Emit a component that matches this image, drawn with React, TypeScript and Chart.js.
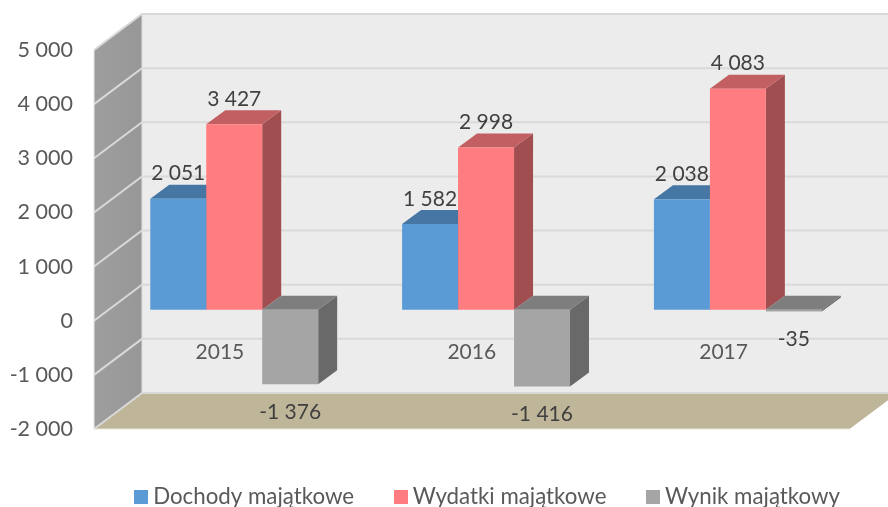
import React, { useEffect, useRef } from "react";
import { Chart, registerables } from "chart.js";

Chart.register(...registerables);

const categories = ["2015", "2016", "2017"];
const dochody = [2051, 1582, 2038];
const wydatki = [3427, 2998, 4083];
const wynik = [-1376, -1416, -35];
const seriesNames = ["Dochody majątkowe", "Wydatki majątkowe", "Wynik majątkowy"];
const frontColors = ["#5B9BD5", "#FF7C80", "#A5A5A5"];
const topColors = ["#4676A3", "#C25F62", "#7E7E7E"];
const sideColors = ["#3B6488", "#A04E50", "#696969"];

const FONT = "Lato, Carlito, 'Open Sans', sans-serif";
const WALL = { dx: 48, dy: -36 };
const PLANE = { dx: 14.3, dy: -11 };
const BAR = { dx: 19, dy: -14 };

const fmt = (v: number) => String(v).replace(/\B(?=(\d{3})+(?!\d))/g, " ");

function poly(ctx: CanvasRenderingContext2D, pts: number[][], fill: any) {
  ctx.beginPath();
  pts.forEach((p, i) => (i ? ctx.lineTo(p[0], p[1]) : ctx.moveTo(p[0], p[1])));
  ctx.closePath();
  ctx.fillStyle = fill;
  ctx.fill();
}

function swatch(color: string) {
  const c = document.createElement("canvas");
  c.width = 14;
  c.height = 14;
  const g = c.getContext("2d")!;
  g.fillStyle = color;
  g.fillRect(0, 0, 14, 14);
  return c;
}

const scene3d = {
  id: "scene3d",
  beforeLayout(chart: any) {
    const lg = chart.legend;
    if (lg && !lg.__wrapped) {
      const fit = lg.fit;
      lg.fit = function () {
        this.maxWidth = 2000;
        fit.call(this);
        this.height = 0;
      };
      lg.__wrapped = true;
    }
  },
  afterLayout(chart: any) {
    const lg = chart.legend;
    const pad = lg.options.labels.padding;
    lg.left = 140 - pad;
    lg.right = 2000;
    lg.top = 486 - pad;
    lg.bottom = 507;
    lg.height = lg.bottom - lg.top;
    lg.width = lg.right - lg.left;
  },
  beforeDraw(chart: any) {
    const { ctx, chartArea: a, scales } = chart;
    const y = scales.y;
    const top = y.getPixelForValue(y.max);
    const bottom = y.getPixelForValue(y.min);
    const bx = a.left + WALL.dx;
    const brx = a.right + WALL.dx;
    ctx.save();
    // back wall
    poly(ctx, [[bx, top + WALL.dy], [brx, top + WALL.dy], [brx, bottom + WALL.dy], [bx, bottom + WALL.dy]], "#ECECEC");
    // left wall
    const g = ctx.createLinearGradient(a.left, 0, bx, 0);
    g.addColorStop(0, "#9E9E9E");
    g.addColorStop(1, "#979797");
    poly(ctx, [[a.left, top], [bx, top + WALL.dy], [bx, bottom + WALL.dy], [a.left, bottom]], g);
    // floor
    poly(ctx, [[a.left, bottom], [a.right, bottom], [brx, bottom + WALL.dy], [bx, bottom + WALL.dy]], "#BFB598");
    // grid lines
    ctx.lineWidth = 2;
    ctx.strokeStyle = "#D9D9D9";
    y.ticks.forEach((t: any) => {
      const py = y.getPixelForValue(t.value);
      ctx.beginPath();
      ctx.moveTo(a.left, py);
      ctx.lineTo(bx, py + WALL.dy);
      ctx.lineTo(brx, py + WALL.dy);
      ctx.stroke();
    });
    ctx.beginPath();
    ctx.moveTo(bx, top + WALL.dy);
    ctx.lineTo(bx, bottom + WALL.dy);
    ctx.strokeStyle = "#DDDDDD";
    ctx.lineWidth = 1;
    ctx.stroke();
    ctx.beginPath();
    ctx.moveTo(a.left, top);
    ctx.lineTo(a.left, bottom);
    ctx.lineTo(a.right, bottom);
    ctx.strokeStyle = "#E8E8E0";
    ctx.stroke();
    ctx.restore();
  },
  beforeDatasetsDraw(chart: any) {
    const { ctx } = chart;
    ctx.save();
    ctx.translate(PLANE.dx, PLANE.dy);
    chart.data.datasets.forEach((_: any, idx: number) => {
      chart.getDatasetMeta(idx).data.forEach((el: any) => {
        const { x, y, base, width } = el.getProps(["x", "y", "base", "width"], true);
        const l = x - width / 2;
        const r = x + width / 2;
        const t = Math.min(y, base);
        const b = Math.max(y, base);
        poly(ctx, [[r, t], [r + BAR.dx, t + BAR.dy], [r + BAR.dx, b + BAR.dy], [r, b]], sideColors[idx]);
        poly(ctx, [[l, t], [l + BAR.dx, t + BAR.dy], [r + BAR.dx, t + BAR.dy], [r, t]], topColors[idx]);
      });
    });
    ctx.restore();
  },
  beforeDatasetDraw(chart: any) {
    chart.ctx.save();
    chart.ctx.translate(PLANE.dx, PLANE.dy);
  },
  afterDatasetDraw(chart: any) {
    chart.ctx.restore();
  },
  afterDatasetsDraw(chart: any) {
    const { ctx } = chart;
    ctx.save();
    ctx.translate(PLANE.dx, PLANE.dy);
    ctx.font = `21px ${FONT}`;
    ctx.fillStyle = "#404040";
    ctx.textAlign = "center";
    ctx.textBaseline = "middle";
    chart.data.datasets.forEach((ds: any, i: number) => {
      chart.getDatasetMeta(i).data.forEach((el: any, j: number) => {
        const v = ds.data[j];
        const { x, y } = el.getProps(["x", "y"], true);
        ctx.fillText(fmt(v), x, v < 0 ? y + 28 : y - 25);
      });
    });
    ctx.restore();
  },
};

export default function App() {
  const ref = useRef<HTMLCanvasElement>(null);
  useEffect(() => {
    const mk = (i: number, data: number[]) => ({
      label: seriesNames[i],
      data,
      backgroundColor: frontColors[i],
      borderWidth: 0,
      clip: false,
    });
    const chart = new Chart(ref.current!, {
      type: "bar",
      data: {
        labels: categories,
        datasets: [mk(0, dochody), mk(1, wydatki), mk(2, wynik)],
      },
      plugins: [scene3d],
      options: {
        animation: false,
        responsive: false,
        layout: { padding: { top: 50, right: 38.5, bottom: 78, left: 0 } },
        datasets: { bar: { barPercentage: 1, categoryPercentage: 168 / 252 } },
        scales: {
          x: {
            position: { y: 0 },
            grid: { display: false, drawTicks: false },
            border: { display: false },
            ticks: { color: "#595959", font: { family: FONT, size: 21 }, padding: 19, maxRotation: 0 },
          },
          y: {
            min: -2000,
            max: 5000,
            afterFit: (s: any) => {
              s.width = 94;
            },
            grid: { display: false, drawTicks: false },
            border: { display: false },
            ticks: {
              stepSize: 1000,
              color: "#595959",
              padding: 21,
              font: { family: FONT, size: 21.5 },
              callback: (v: any) => fmt(v),
            },
          },
        },
        plugins: {
          tooltip: { enabled: false },
          legend: {
            position: "bottom",
            align: "start",
            labels: {
              color: "#595959",
              font: { family: FONT, size: 22.3 },
              usePointStyle: true,
              pointStyleWidth: 2,
              padding: 45.5,
              generateLabels: (c: any) =>
                c.data.datasets.map((d: any, i: number) => ({
                  text: d.label,
                  fontColor: "#595959",
                  pointStyle: swatch(frontColors[i]),
                  datasetIndex: i,
                  lineWidth: 0,
                })),
            },
          },
        },
      } as any,
    });
    return () => chart.destroy();
  }, []);
  return (
    <div style={{ position: "fixed", left: 0, top: 0, width: 888, height: 507, background: "#fff" }}>
      <canvas ref={ref} width={888} height={507} style={{ display: "block" }} />
    </div>
  );
}
